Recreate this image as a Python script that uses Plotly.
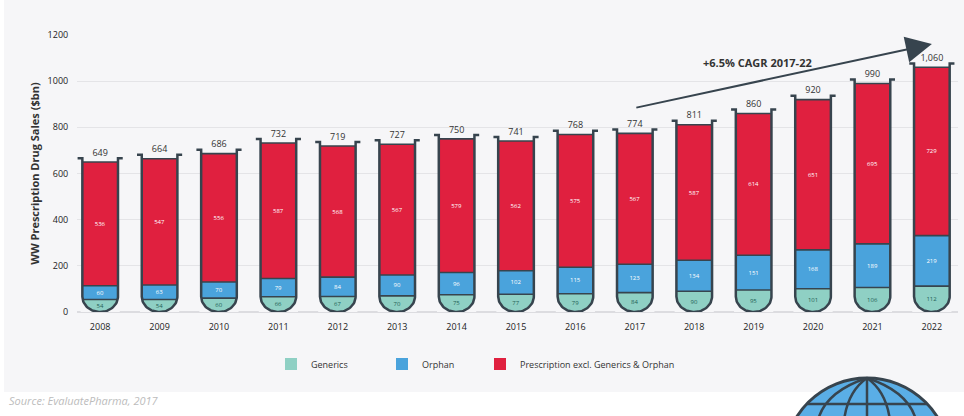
import numpy as np
import plotly.graph_objects as go

YEARS = list(range(2008, 2023))
GENERICS = [54, 54, 60, 66, 67, 70, 75, 77, 79, 84, 90, 95, 101, 106, 112]
ORPHAN = [60, 63, 70, 79, 84, 90, 96, 102, 115, 123, 134, 151, 168, 189, 219]
OTHER = [536, 547, 556, 587, 568, 567, 579, 562, 575, 567, 587, 614, 651, 695, 729]
TOTALS = [649, 664, 686, 732, 719, 727, 750, 741, 768, 774, 811, 860, 920, 990, 1060]
TOTAL_LABELS = ["649", "664", "686", "732", "719", "727", "750", "741", "768", "774", "811", "860", "920", "990", "1,060"]
Y_TICKS = [0, 200, 400, 600, 800, 1000, 1200]
SERIES_NAMES = ["Generics", "Orphan", "Prescription excl. Generics & Orphan"]

W, H = 964, 416
L, R, T, B = 77, 6, 35, 104
FONT = "Open Sans"
DARK = "#37444e"
PANEL = "#f6f6f8"
TEAL, BLUE, RED = "#8fd0c4", "#4aa3dc", "#e0203f"
HALF = 0.3
ARC_H = 67


def px(x):
    return (x - L) / (W - L - R)


def py(y):
    return (H - B - y) / (H - T - B)


fig = go.Figure()
for name, vals, col, tcol, leg in [
    (SERIES_NAMES[0], GENERICS, TEAL, "#1f5f55", "legend"),
    (SERIES_NAMES[1], ORPHAN, BLUE, "white", "legend2"),
    (SERIES_NAMES[2], OTHER, RED, "white", "legend3"),
]:
    fig.add_trace(go.Bar(
        x=YEARS, y=vals, name=name, width=2 * HALF, legend=leg,
        marker=dict(color=col, line=dict(width=0)),
        text=vals, textposition="inside", insidetextanchor="middle",
        textangle=0, constraintext="none",
        textfont=dict(family=FONT, size=6, color=tcol),
    ))

# corner masks, tube outline and dividers, derived from the category positions and values
t = np.linspace(0, np.pi, 41)
mx, my, ox, oy, dx, dy = [], [], [], [], [], []
for yr, tot, g, o, p in zip(YEARS, TOTALS, GENERICS, ORPHAN, OTHER):
    ax = yr + HALF * np.cos(t)
    ay = ARC_H - ARC_H * np.sin(t)
    n = len(t) // 2
    e = HALF + 0.03
    mx += list(ax[:n + 1]) + [yr, yr + e, yr + e, ax[0], None]
    my += list(ay[:n + 1]) + [-14, -14, ARC_H, ARC_H, None]
    mx += list(ax[n:]) + [yr - e, yr - e, yr, None]
    my += list(ay[n:]) + [ARC_H, -14, -14, None]
    cap = tot + 17
    ox += [yr - HALF - 0.08, yr - HALF] + list(ax[::-1]) + [yr + HALF, yr + HALF + 0.08, None]
    oy += [cap, cap] + list(ay[::-1]) + [cap, cap, None]
    for level in (g, g + o, g + o + p):
        hw = HALF if level >= ARC_H else HALF * np.sqrt(1 - ((ARC_H - level) / ARC_H) ** 2)
        dx += [yr - hw, yr + hw, None]
        dy += [level, level, None]

fig.add_trace(go.Scatter(x=mx, y=my, mode="lines", fill="toself", fillcolor=PANEL,
                         line=dict(width=0), hoverinfo="skip", showlegend=False, cliponaxis=False))
fig.add_trace(go.Scatter(x=dx, y=dy, mode="lines", line=dict(color=DARK, width=1.6),
                         hoverinfo="skip", showlegend=False, cliponaxis=False))
fig.add_trace(go.Scatter(x=ox, y=oy, mode="lines", line=dict(color=DARK, width=2.5),
                         hoverinfo="skip", showlegend=False, cliponaxis=False))
fig.add_trace(go.Scatter(x=YEARS, y=TOTALS, mode="markers+text", text=TOTAL_LABELS, textposition="top center",
                         marker=dict(size=5, opacity=0),
                         textfont=dict(family=FONT, size=9, color="#333"),
                         hoverinfo="skip", showlegend=False, cliponaxis=False))

shapes = [dict(type="rect", xref="paper", yref="paper", x0=px(4), x1=px(964), y0=py(392), y1=py(0),
               fillcolor=PANEL, line=dict(width=0), layer="below")]

# globe decoration
gx, gy, gr = 867, 461, 83
GLOBE_LINE = dict(color=DARK, width=2.5)
shapes.append(dict(type="circle", xref="paper", yref="paper", x0=px(gx - gr), x1=px(gx + gr),
                   y0=py(gy + gr), y1=py(gy - gr), fillcolor="#5aaee6", line=dict(color=DARK, width=3)))
for off in [-45, -21, 21, 45]:
    path = (f"M {px(gx)} {py(gy - gr)} Q {px(gx + off * 0.95)} {py(392)} "
            f"{px(gx + off * 1.1)} {py(H + 6)}")
    shapes.append(dict(type="path", xref="paper", yref="paper", path=path, line=GLOBE_LINE))
shapes.append(dict(type="line", xref="paper", yref="paper", x0=px(gx), x1=px(gx), y0=py(gy - gr), y1=py(H + 6),
                   line=GLOBE_LINE))
shapes.append(dict(type="line", xref="paper", yref="paper", x0=px(gx - 60), x1=px(gx + 60), y0=py(404), y1=py(404),
                   line=GLOBE_LINE))

LEGEND_FONT = dict(family=FONT, size=9, color="#333")


def legend_at(x):
    return dict(orientation="h", x=px(x), xanchor="left", y=py(364), yanchor="middle",
                font=LEGEND_FONT, bgcolor="rgba(0,0,0,0)")


fig.update_layout(
    width=W, height=H, margin=dict(l=L, r=R, t=T, b=B),
    barmode="stack", bargap=0.4, paper_bgcolor="white", plot_bgcolor="rgba(0,0,0,0)",
    font=dict(family=FONT, size=9, color="#333"),
    shapes=shapes,
    xaxis=dict(range=[2007.61, 2022.44], tickmode="array", tickvals=YEARS, ticks="outside", ticklen=6,
               tickcolor="rgba(0,0,0,0)", showgrid=False, zeroline=False,
               tickfont=dict(family=FONT, size=9, color="#222")),
    yaxis=dict(range=[0, 1200], tickmode="array", tickvals=Y_TICKS, showgrid=True, gridcolor="#e4e4e7",
               zeroline=True, zerolinecolor="#dcdce0", ticks="outside", ticklen=6, tickcolor="rgba(0,0,0,0)",
               tickfont=dict(family=FONT, size=9, color="#222"),
               title=dict(text="<b>WW Prescription Drug Sales ($bn)</b>", standoff=5,
                          font=dict(family=FONT, size=11, color="#333"))),
    legend=legend_at(271),
    legend2=legend_at(382),
    legend3=legend_at(480),
    annotations=[
        dict(x=2022, y=1161, ax=2017, ay=884, xref="x", yref="y", axref="x", ayref="y", showarrow=True,
             text="", arrowhead=2, arrowsize=2.6, arrowwidth=2, arrowcolor=DARK),
        dict(x=px(757), y=py(53), xref="paper", yref="paper", xanchor="center", showarrow=False,
             text="<b>+6.5% CAGR 2017-22</b>", font=dict(family=FONT, size=11, color="#333")),
        dict(x=px(7), y=py(410), xref="paper", yref="paper", xanchor="left", showarrow=False,
             text="<i>Source: EvaluatePharma, 2017</i>", font=dict(family=FONT, size=11, color="#bcbcbc")),
    ],
)

fig.write_html("out.html", config=dict(displayModeBar=False),
               post_script="document.body.style.margin='0';document.body.style.overflow='hidden';")
